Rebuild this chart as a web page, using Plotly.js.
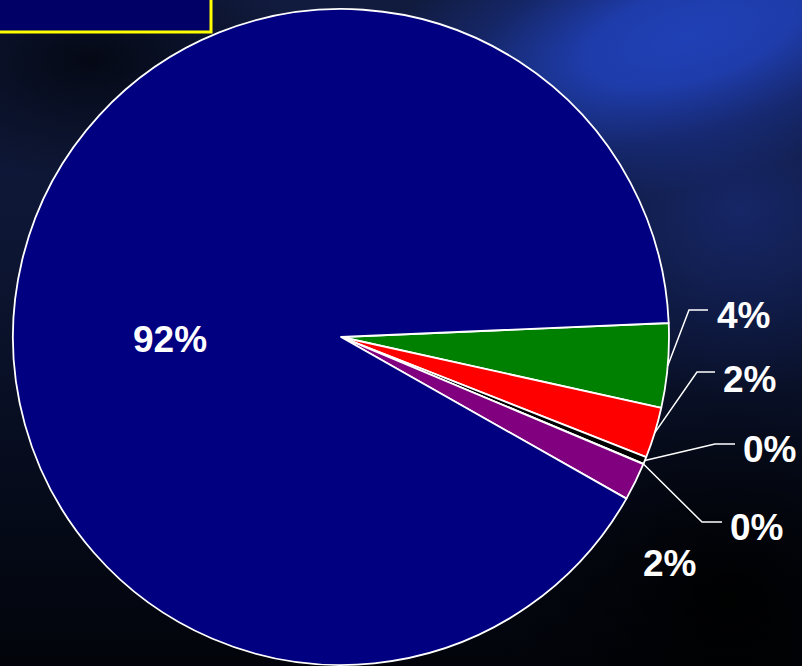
<!DOCTYPE html>
<html>
<head>
<meta charset="utf-8">
<script src="https://cdn.plot.ly/plotly-3.0.1.min.js"></script>
<style>
  html, body { margin:0; padding:0; width:802px; height:666px; overflow:hidden; background:#03060f; }
  #bg { position:absolute; left:0; top:0; width:802px; height:666px; overflow:hidden;
        background: linear-gradient(180deg, #111b3e 0%, #0d1634 35%, #080f24 60%, #02040a 100%); }
  #streak { position:absolute; left:330px; top:-115px; width:720px; height:300px;
        transform: rotate(-15deg);
        background: radial-gradient(ellipse closest-side at 50% 50%, rgba(32,64,182,1) 0%, rgba(31,62,176,0.95) 30%, rgba(26,50,145,0.5) 65%, rgba(20,40,120,0) 100%); }
  #glow2 { position:absolute; left:520px; top:20px; width:440px; height:380px;
        background: radial-gradient(ellipse closest-side, rgba(24,42,115,0.8), rgba(20,35,90,0)); }
  #dark { position:absolute; left:-120px; top:-60px; width:420px; height:240px;
        background: radial-gradient(ellipse closest-side, rgba(3,6,15,0.85), rgba(3,6,15,0)); }
  #dark2 { position:absolute; left:500px; top:400px; width:460px; height:400px;
        background: radial-gradient(ellipse closest-side, rgba(0,0,0,0.95), rgba(0,0,0,0)); }
  #chart { position:absolute; left:0; top:0; width:802px; height:666px; }
</style>
</head>
<body>
<div id="bg"><div id="glow2"></div><div id="streak"></div><div id="dark"></div><div id="dark2"></div></div>
<div id="chart"></div>
<script>
// ---- data (clockwise from the green slice) ----
const categories = ['Green', 'Red', 'Black', 'Zero', 'Purple', 'Navy'];
const values     = [4.15, 2.5, 0.35, 0.02, 1.86, 91.12];
const labels     = ['4%', '2%', '0%', '0%', '2%', '92%'];
const colors     = ['#008000', '#ff0000', '#000000', '#ffffff', '#800080', '#000080'];

// ---- layout (pixels) ----
const W = 802, H = 666;
const CX = 341, CY = 337, R = 328;
const ROT = 87.55; // start angle, degrees clockwise from 12 o'clock
// text centre, and leader elbow / end (null = no leader)
const labelPos = [
  {t:[743,313], e:[689,310], h:[708,310]},
  {t:[749,377], e:[697,372], h:[715,372]},
  {t:[769,447], e:[715,444], h:[735,444]},
  {t:[756,525], e:[702,522], h:[722,522]},
  {t:[669,561], e:null, h:null},
  {t:[170,337], e:null, h:null}
];

const px = x => x / W;
const py = y => 1 - y / H;

const total = values.reduce((a,b)=>a+b,0);
let acc = 0;
const annotations = [], shapes = [];
values.forEach((v,i) => {
  const mid = ROT + (acc + v/2) / total * 360;
  acc += v;
  const a = mid * Math.PI / 180;
  const sx = CX + R * Math.sin(a), sy = CY - R * Math.cos(a);
  const L = labelPos[i];
  if (L.e) {
    shapes.push({type:'path', xref:'paper', yref:'paper',
      path:`M ${px(sx)} ${py(sy)} L ${px(L.e[0])} ${py(L.e[1])} L ${px(L.h[0])} ${py(L.h[1])}`,
      line:{color:'#ffffff', width:1.5}});
  }
  annotations.push({xref:'paper', yref:'paper', x:px(L.t[0]), y:py(L.t[1]+2),
    xanchor:'center', yanchor:'middle', text:labels[i], showarrow:false,
    font:{family:'Liberation Sans, Arial, sans-serif', size:37, color:'#ffffff', weight:'bold'}});
});

// yellow-framed box (cropped legend/title box) at the top left
shapes.push({type:'rect', xref:'paper', yref:'paper', x0:px(-5), x1:px(211), y0:py(32), y1:py(-5),
  fillcolor:'#000066', line:{color:'#ffff00', width:3}});

const trace = {
  type:'pie', labels:categories, values:values, text:labels,
  sort:false, direction:'clockwise', rotation:ROT,
  marker:{colors:colors, line:{color:'#ffffff', width:1.8}},
  textinfo:'none', hoverinfo:'skip', showlegend:false,
  domain:{x:[(CX-R)/W, (CX+R)/W], y:[1-(CY+R)/H, 1-(CY-R)/H]}
};

Plotly.newPlot('chart', [trace], {
  width:W, height:H, margin:{l:0,r:0,t:0,b:0},
  paper_bgcolor:'rgba(0,0,0,0)', plot_bgcolor:'rgba(0,0,0,0)',
  showlegend:false, annotations:annotations, shapes:shapes
}, {displayModeBar:false, staticPlot:true});
</script>
</body>
</html>
